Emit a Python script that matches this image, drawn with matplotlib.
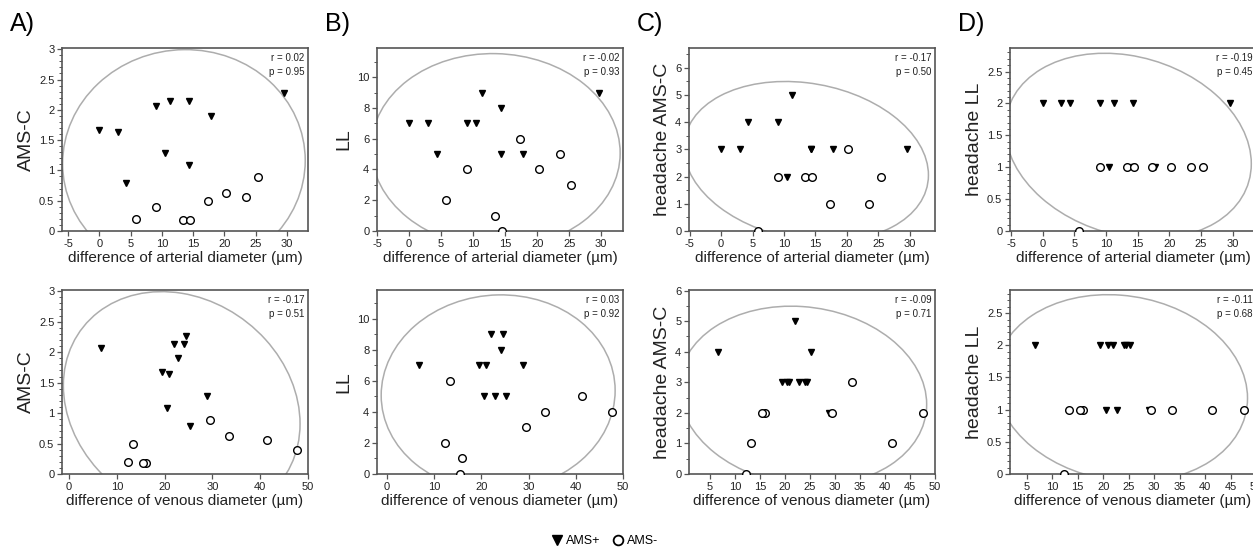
import numpy as np
import matplotlib
matplotlib.use("Agg")
import matplotlib.pyplot as plt
from matplotlib.patches import Ellipse
from matplotlib.lines import Line2D
from matplotlib.ticker import MultipleLocator, FuncFormatter

plt.rcParams['font.family'] = ['Liberation Sans', 'DejaVu Sans']

# AMS+ subjects (filled triangles)
art_pos = [0, 2.95, 4.3, 9.05, 10.5, 11.35, 14.35, 14.35, 17.8, 29.6]
ven_pos = [19.4, 20.9, 25.2, 6.7, 28.9, 22.0, 24.1, 20.5, 22.8, 24.5]
amsc_pos = [1.67, 1.64, 0.79, 2.06, 1.28, 2.14, 2.14, 1.09, 1.90, 2.27]
ll_pos = [7, 7, 5, 7, 7, 9, 8, 5, 5, 9]
hams_pos = [3, 3, 4, 4, 2, 5, 3, 3, 3, 3]
hll_pos = [2, 2, 2, 2, 1, 2, 2, 1, 1, 2]

# AMS- subjects (open circles)
art_neg = [5.8, 9.1, 13.4, 14.5, 17.35, 20.25, 23.5, 25.35]
ven_neg = [12.3, 47.7, 16.0, 15.5, 13.3, 33.5, 41.4, 29.4]
amsc_neg = [0.19, 0.39, 0.18, 0.18, 0.50, 0.62, 0.56, 0.89]
ll_neg = [2, 4, 1, 0, 6, 4, 5, 3]
hams_neg = [0, 2, 2, 2, 1, 3, 1, 2]
hll_neg = [0, 1, 1, 1, 1, 1, 1, 1]

panel_letters = ["A)", "B)", "C)", "D)"]
y_labels = ["AMS-C", "LL", "headache AMS-C", "headache LL"]
x_labels = ["difference of arterial diameter (µm)", "difference of venous diameter (µm)"]
r_text = [["0.02", "-0.02", "-0.17", "-0.19"], ["-0.17", "0.03", "-0.09", "-0.11"]]
p_text = [["0.95", "0.93", "0.50", "0.45"], ["0.51", "0.92", "0.71", "0.68"]]

y_pos = [amsc_pos, ll_pos, hams_pos, hll_pos]
y_neg = [amsc_neg, ll_neg, hams_neg, hll_neg]
x_pos = [art_pos, ven_pos]
x_neg = [art_neg, ven_neg]

# axis layout (pixels of 1253x550 figure)
W, H = 1253, 550
col_left = [62, 377, 689, 1010]
ax_w = 246
row_box = [(48, 231), (290, 474)]

xlims = [[(-6, 33.4), (-5, 33.4), (-5.1, 34), (-5.15, 33.7)],
         [(-1.5, 50), (-2.1, 50), (0.84, 50), (1.7, 50)]]
ylims = [(0, 3.02), (0, 11.9), (0, 6.72), (0, 2.87)]
ylims_bottom = [(0, 3.02), (0, 11.85), (0, 6.02), (0, 2.86)]
ymajor = [0.5, 2, 1, 0.5]
yminor = [0.1, 1, 0.5, 0.1]

fig = plt.figure(figsize=(W / 100, H / 100), dpi=100)
TXT = '#222222'
SP = '#555555'


def conf_ellipse(ax, x, y):
    # 95% confidence ellipse of all points
    x = np.asarray(x, float)
    y = np.asarray(y, float)
    cov = np.cov(x, y)
    vals, vecs = np.linalg.eigh(cov)
    order = vals.argsort()[::-1]
    vals, vecs = vals[order], vecs[:, order]
    angle = np.degrees(np.arctan2(vecs[1, 0], vecs[0, 0]))
    k = np.sqrt(5.991)
    e = Ellipse((x.mean(), y.mean()), 2 * k * np.sqrt(vals[0]), 2 * k * np.sqrt(vals[1]),
                angle=angle, fill=False, edgecolor='#adadad', lw=1.1, zorder=1)
    ax.add_patch(e)


fmt = FuncFormatter(lambda v, p: "%g" % v)

for row in range(2):
    top, bot = row_box[row]
    for col in range(4):
        left = col_left[col]
        ax = fig.add_axes([left / W, (H - bot) / H, ax_w / W, (bot - top) / H])
        xs_p, xs_n = x_pos[row], x_neg[row]
        ys_p, ys_n = y_pos[col], y_neg[col]

        ax.set_xlim(*xlims[row][col])
        ax.set_ylim(*(ylims[col] if row == 0 else ylims_bottom[col]))

        conf_ellipse(ax, list(xs_p) + list(xs_n), list(ys_p) + list(ys_n))
        ax.plot(xs_p, ys_p, linestyle='none', marker='v', ms=5, color='black', zorder=3,
                clip_on=False)
        ax.plot(xs_n, ys_n, linestyle='none', marker='o', ms=5.5, mfc='white', mec='black',
                mew=1.0, zorder=3, clip_on=True)

        if row == 0:
            ax.set_xticks(np.arange(-5, 31, 5))
        elif col < 2:
            ax.set_xticks(np.arange(0, 51, 10))
        else:
            ax.set_xticks(np.arange(5, 51, 5))
        ax.yaxis.set_major_locator(MultipleLocator(ymajor[col]))
        ax.yaxis.set_minor_locator(MultipleLocator(yminor[col]))
        ax.xaxis.set_major_formatter(fmt)
        ax.yaxis.set_major_formatter(fmt)

        ax.tick_params(axis='both', which='major', direction='out', length=3.5, width=0.9,
                       color=SP, labelsize=8, labelcolor=TXT, pad=2)
        ax.tick_params(axis='y', which='minor', direction='out', length=2, width=0.7, color=SP)
        for s in ax.spines.values():
            s.set_color(SP)
            s.set_linewidth(1.2)

        ax.set_ylabel(y_labels[col], fontsize=14, color=TXT, labelpad=3)
        ax.set_xlabel(x_labels[row], fontsize=11, color=TXT, labelpad=2)

        ax.text(0.985, 0.975, "r = %s\np = %s" % (r_text[row][col], p_text[row][col]),
                transform=ax.transAxes, ha='right', va='top', fontsize=7, color=TXT,
                linespacing=1.55)

        if row == 0:
            ax.text((left - 52) / W, 1 - 24 / H, panel_letters[col], transform=fig.transFigure,
                    ha='left', va='center', fontsize=18, color='black')

handles = [Line2D([], [], linestyle='none', marker='v', ms=7, color='black'),
           Line2D([], [], linestyle='none', marker='o', ms=7, mfc='white', mec='black', mew=1.3)]
fig.legend(handles, ["AMS+", "AMS-"], loc='center', bbox_to_anchor=(604 / W, 1 - 541 / H),
           ncol=2, frameon=False, fontsize=9, handletextpad=0.1, columnspacing=0.8,
           handlelength=1.2)

fig.savefig("out.png", dpi=100)
